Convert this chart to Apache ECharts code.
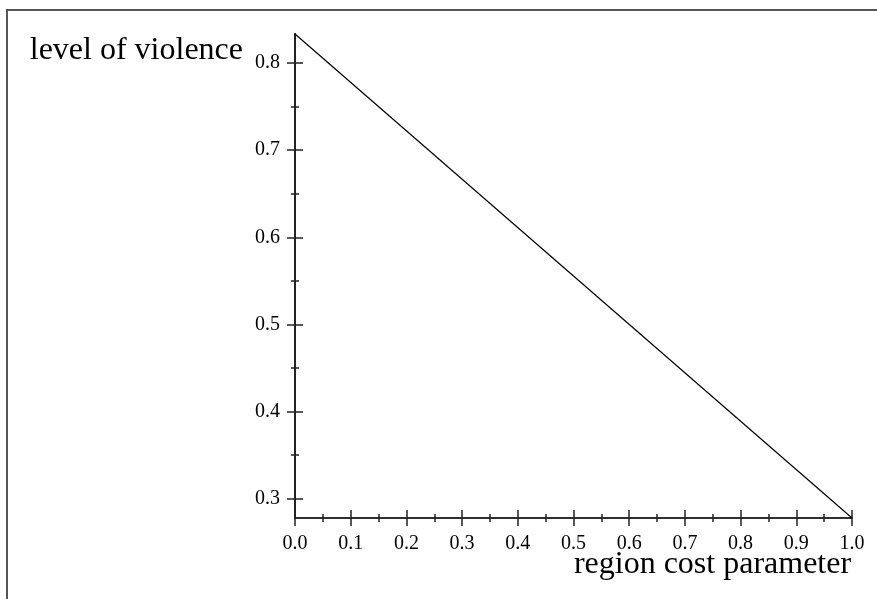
<!DOCTYPE html>
<html>
<head>
    <meta charset="utf-8"/>
    <title>level of violence</title>
    <script src="https://cdn.jsdelivr.net/npm/echarts@6.0.0/dist/echarts.min.js"></script>
    <style>
        body { margin: 0; overflow: hidden; background: #fff; }
    </style>
</head>
<body>

<div id="main" style="width: 877px;height:599px;"></div>

<script>
    // data
    var costParam = [0, 1];
    var violence = [0.8333, 0.2778];
    var yMajorTicks = [0.3, 0.4, 0.5, 0.6, 0.7, 0.8];
    var yMinorTicks = [0.35, 0.45, 0.55, 0.65, 0.75];

    var yMin = 0.2778, yMax = 0.8333;
    var font = "'Liberation Serif', 'Times New Roman', serif";
    var axisColor = '#222';

    var myChart = echarts.init(document.getElementById('main'));

    // axes are doubled so that ticks cross the axis line
    function xAxisPart(inside, withLabels) {
        return {
            type: 'value', min: 0, max: 1, interval: 0.1,
            position: 'bottom',
            axisLine: { show: true, onZero: false, lineStyle: { color: axisColor, width: 1.5 } },
            axisTick: { show: true, inside: inside, length: 8, lineStyle: { color: axisColor, width: 1.5 } },
            minorTick: { show: true, splitNumber: 2, length: 4, lineStyle: { color: axisColor, width: 1.5 } },
            splitLine: { show: false },
            axisLabel: {
                show: withLabels, margin: 16, color: '#000', fontFamily: font, fontSize: 20,
                formatter: function (v) { return v.toFixed(1); }
            },
            name: withLabels ? 'region cost parameter' : '',
            nameLocation: 'middle',
            nameGap: 31,
            nameMoveOverlap: false,
            nameTextStyle: {
                fontFamily: font, fontSize: 32, color: '#000',
                padding: [0, 0, 0, 278]
            }
        };
    }

    function yAxisPart(values, inside, len, withLabels) {
        return {
            type: 'value', min: yMin, max: yMax,
            position: 'left',
            axisLine: { show: true, onZero: false, lineStyle: { color: axisColor, width: 1.5 } },
            axisTick: { show: true, inside: inside, length: len, customValues: values,
                lineStyle: { color: axisColor, width: 1.5 } },
            splitLine: { show: false },
            axisLabel: {
                show: withLabels, customValues: values, margin: 15, color: '#000',
                fontFamily: font, fontSize: 20, padding: [6, 0, 0, 0],
                formatter: function (v) { return v.toFixed(1); }
            },
            name: withLabels ? 'level of violence' : '',
            nameLocation: 'end',
            nameGap: 0,
            nameMoveOverlap: false,
            nameTextStyle: {
                fontFamily: font, fontSize: 32, color: '#000',
                align: 'right', verticalAlign: 'top', padding: [1, 52, 0, 0]
            }
        };
    }

    var option = {
        animation: false,
        backgroundColor: '#fff',
        grid: { left: 295, right: 25, top: 34, bottom: 81, outerBoundsMode: 'none', containLabel: false },
        graphic: [{
            type: 'rect',
            shape: { x: 7, y: 10, width: 1000, height: 1000 },
            style: { fill: 'none', stroke: '#555', lineWidth: 2 }
        }],
        xAxis: [xAxisPart(false, true), xAxisPart(true, false)],
        yAxis: [
            yAxisPart(yMajorTicks, false, 8, true),
            yAxisPart(yMajorTicks, true, 8, false),
            yAxisPart(yMinorTicks, false, 4, false),
            yAxisPart(yMinorTicks, true, 4, false)
        ],
        series: [{
            type: 'line',
            xAxisIndex: 0,
            yAxisIndex: 0,
            data: costParam.map(function (x, i) { return [x, violence[i]]; }),
            symbol: 'none',
            lineStyle: { color: '#000', width: 1.2 }
        }]
    };

    myChart.setOption(option);
</script>

</body>
</html>
